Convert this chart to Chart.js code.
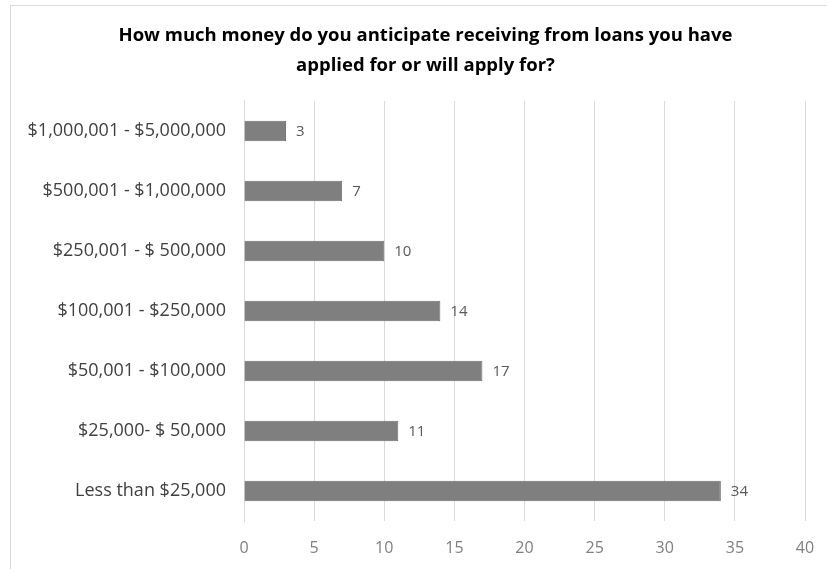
<!DOCTYPE html>
<html>
<head>
<meta charset="utf-8">
<script src="https://cdn.jsdelivr.net/npm/chart.js@4"></script>
<style>
  html, body { margin: 0; padding: 0; background: #fff; }
  #frame { position: absolute; left: 10px; top: 5px; width: 830px; height: 580px; border: 1px solid #d9d9d9; box-sizing: border-box; }
  #wrap { position: absolute; left: 0; top: 0; width: 827px; height: 569px; }
</style>
</head>
<body>
<div id="frame"></div>
<div id="wrap"><canvas id="loanChart"></canvas></div>
<script>
const categories = [
  '$1,000,001 - $5,000,000',
  '$500,001 - $1,000,000',
  '$250,001 - $ 500,000',
  '$100,001 - $250,000',
  '$50,001 - $100,000',
  '$25,000- $ 50,000',
  'Less than $25,000'
];
const responses = [3, 7, 10, 14, 17, 11, 34];
const titleLines = [
  'How much money do you anticipate receiving from loans you have',
  'applied for or will apply for?'
];

const FONT = "'Open Sans', 'Noto Sans', sans-serif";

// write the value just past the end of each bar
const valueLabels = {
  id: 'valueLabels',
  afterDatasetsDraw(chart) {
    const ctx = chart.ctx;
    const meta = chart.getDatasetMeta(0);
    ctx.save();
    ctx.font = '15px ' + FONT;
    ctx.fillStyle = '#595959';
    ctx.textBaseline = 'middle';
    meta.data.forEach((bar, i) => {
      ctx.fillText(responses[i], bar.x + 10, bar.y + 1);
    });
    ctx.restore();
  }
};

// the left padding only shifts the title; let the category labels use it too
// (chart.js clips tick labels to the axis box)
const widenYBox = {
  id: 'widenYBox',
  afterLayout(chart) { chart.scales.y.left = 0; }
};

document.addEventListener('DOMContentLoaded', () => {
  const ctx = document.getElementById('loanChart').getContext('2d');
  new Chart(ctx, {
    type: 'bar',
    data: {
      labels: categories,
      datasets: [{
        data: responses,
        backgroundColor: '#7f7f7f',
        borderColor: '#6e6e6e',
        borderWidth: 1,
        barPercentage: 0.34,
        categoryPercentage: 1
      }]
    },
    options: {
      indexAxis: 'y',
      responsive: true,
      maintainAspectRatio: false,
      animation: false,
      layout: { padding: { left: 46, right: 22, top: 21, bottom: 12 } },
      plugins: {
        legend: { display: false },
        tooltip: { enabled: false },
        title: {
          display: true,
          text: titleLines,
          color: '#000',
          font: { family: FONT, size: 18.5, weight: 'bold', lineHeight: 1.62 },
          padding: { top: 0, bottom: 20 }
        }
      },
      scales: {
        x: {
          min: 0, max: 40,
          ticks: { stepSize: 5, color: '#7f7f7f', font: { family: FONT, size: 16 }, padding: 18 },
          grid: { color: '#d9d9d9', drawTicks: false },
          border: { display: false },
          afterFit: s => { s.height = 36; s.paddingRight = 0; s.paddingLeft = 0; }
        },
        y: {
          ticks: { color: '#404040', font: { family: FONT, size: 18 }, padding: 18 },
          grid: { display: false, drawTicks: false },
          border: { color: '#d9d9d9' },
          afterFit: s => { s.width = 198; }
        }
      }
    },
    plugins: [valueLabels, widenYBox]
  });
});
</script>
</body>
</html>
